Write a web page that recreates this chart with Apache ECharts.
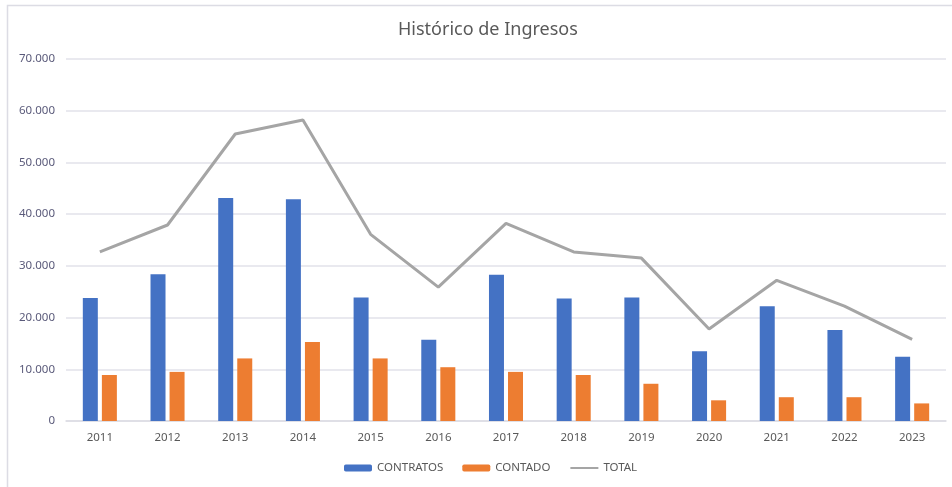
<!DOCTYPE html>
<html>
<head>
<meta charset="utf-8">
<script src="https://cdn.jsdelivr.net/npm/echarts@6/dist/echarts.min.js"></script>
<style>
  html, body { margin: 0; padding: 0; background: #fff; }
  #chart { width: 952px; height: 487px; }
</style>
</head>
<body>
<div id="chart"></div>
<script>
// datos
const years = ['2011', '2012', '2013', '2014', '2015', '2016', '2017', '2018', '2019', '2020', '2021', '2022', '2023'];
const contratos = [23800, 28400, 43100, 42900, 23900, 15700, 28300, 23700, 23900, 13500, 22200, 17600, 12400];
const contado = [8900, 9500, 12100, 15300, 12100, 10400, 9500, 8900, 7200, 4000, 4600, 4600, 3400];
const total = [32700, 37900, 55500, 58200, 36100, 25900, 38200, 32700, 31500, 17800, 27200, 22200, 15800];

const fontFamily = '"Noto Sans", "Open Sans", sans-serif';

const chart = echarts.init(document.getElementById('chart'));
chart.setOption({
  animation: false,
  textStyle: { fontFamily },
  title: {
    text: 'Histórico de Ingresos',
    left: 393,
    top: 16,
    textStyle: { fontFamily, fontSize: 18, fontWeight: 'normal', color: '#595959' }
  },
  graphic: [{
    type: 'rect',
    shape: { x: 7.5, y: 5.5, width: 960, height: 500 },
    style: { fill: 'none', stroke: '#dcdce4', lineWidth: 1.5 },
    silent: true
  }],
  legend: {
    bottom: 8,
    left: 339,
    itemWidth: 28,
    itemHeight: 7,
    itemGap: 19,
    textStyle: { fontFamily, fontSize: 11.5, color: '#595959' },
    data: ['CONTRATOS', 'CONTADO', { name: 'TOTAL', itemStyle: { opacity: 0 } }]
  },
  grid: { left: 66, right: 6, top: 59, bottom: 66 },
  xAxis: {
    type: 'category',
    data: years,
    axisLine: { show: true, lineStyle: { color: '#dcdce4', width: 1.5 } },
    axisTick: { show: false },
    axisLabel: { fontFamily, fontSize: 11.5, color: '#595959', margin: 11 }
  },
  yAxis: {
    type: 'value',
    min: 0,
    max: 70000,
    interval: 10000,
    axisLine: { show: false },
    axisTick: { show: false },
    splitLine: { lineStyle: { color: '#e2e2ea', width: 1.5 } },
    axisLabel: {
      fontFamily, fontSize: 11.5, color: '#5a5a7a', margin: 11,
      formatter: v => v === 0 ? '0' : v.toLocaleString('de-DE')
    }
  },
  series: [
    {
      name: 'CONTRATOS',
      type: 'bar',
      data: contratos,
      barWidth: 15,
      barGap: '27%',
      itemStyle: { color: '#4472c4' }
    },
    {
      name: 'CONTADO',
      type: 'bar',
      data: contado,
      barWidth: 15,
      itemStyle: { color: '#ed7d31' }
    },
    {
      name: 'TOTAL',
      type: 'line',
      data: total,
      symbol: 'none',
      lineStyle: { color: '#a5a5a5', width: 3 },
      itemStyle: { color: '#a5a5a5' }
    }
  ]
});
</script>
</body>
</html>
